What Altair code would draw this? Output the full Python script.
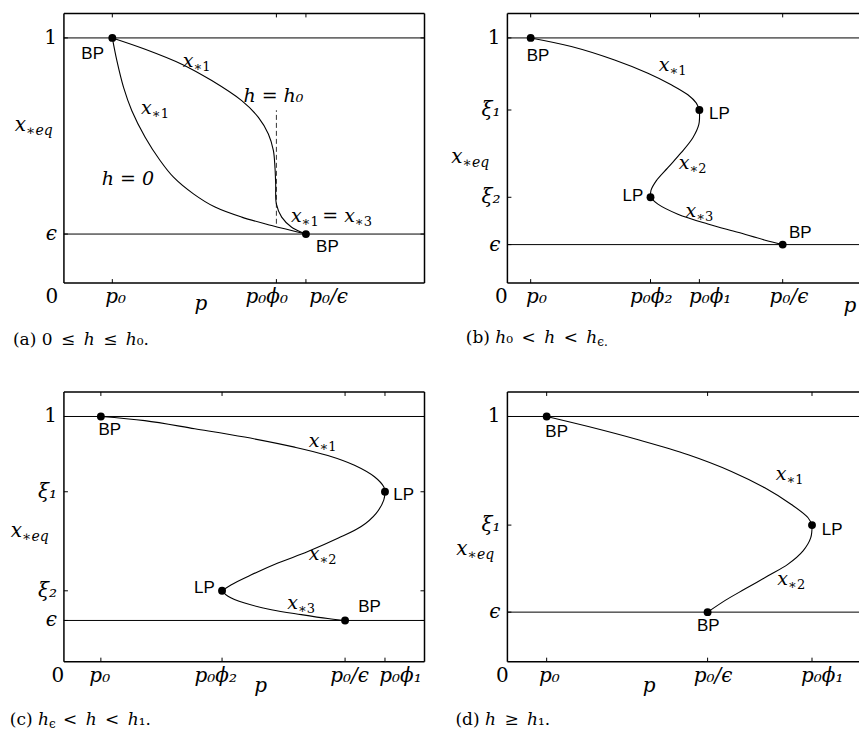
import altair as alt
import pandas as pd

MATH = "DejaVu Serif"
SANS = "Liberation Sans"
Y_TOP = 1.1          # top of the x_{*eq} axis
PANEL_H = 270
EN = "\u2002"        # wide space around relation signs in captions

# ---------------- (a)  0 <= h <= h0 ----------------
a_h0_p = [1.0, 1.094, 1.232, 1.403, 1.678, 1.987, 2.264, 2.676, 3.122, 3.673, 4.292, 5.0]
a_h0_x = [1.0, 0.907, 0.798, 0.703, 0.595, 0.500, 0.432, 0.364, 0.310, 0.269, 0.235, 0.2]
a_hh0_p = [1.0, 1.678, 2.435, 3.054, 3.673, 4.018, 4.224, 4.327, 4.360, 4.375, 4.389, 4.499, 4.705, 5.0]
a_hh0_x = [1.0, 0.954, 0.893, 0.826, 0.744, 0.676, 0.608, 0.541, 0.473, 0.404, 0.323, 0.269, 0.228, 0.2]
a_dots_p = [1.0, 5.0]
a_dots_x = [1.0, 0.2]
a_xticks = [1.0, 4.39, 5.0]
a_xtick_text = ["p₀", "p₀ϕ₀", "p₀/ϵ"]
a_xtick_at = [1.07, 4.19, 5.47]
a_yticks = [0.2, 1.0]
a_ytick_text = ["ϵ", "1"]
a_phi0_dash = [4.39, 0.242, 0.705]   # p, lower x, upper x

# ---------------- (b)  h0 < h < h_eps ----------------
b_x1_p = [1.0, 2.747, 4.605, 6.039, 7.039, 7.755, 8.112, 8.25]
b_x1_x = [1.0, 0.965, 0.910, 0.856, 0.809, 0.768, 0.735, 0.706]
b_x2_p = [8.25, 8.227, 7.970, 7.468, 6.897, 6.395, 6.17, 6.15]
b_x2_x = [0.706, 0.647, 0.593, 0.532, 0.471, 0.417, 0.378, 0.35]
b_x3_p = [6.15, 6.468, 7.326, 8.614, 9.901, 11.04, 11.83]
b_x3_x = [0.35, 0.322, 0.281, 0.241, 0.207, 0.176, 0.157]
b_dots_p = [1.0, 8.25, 6.15, 11.83]
b_dots_x = [1.0, 0.706, 0.35, 0.157]
b_xticks = [1.0, 6.15, 8.25, 11.83]
b_xtick_text = ["p₀", "p₀ϕ₂", "p₀ϕ₁", "p₀/ϵ"]
b_xtick_at = [1.25, 6.18, 8.71, 12.10]
b_yticks = [0.157, 0.35, 0.706, 1.0]
b_ytick_text = ["ϵ", "ξ₂", "ξ₁", "1"]

# ---------------- (c)  h_eps < h < h1 ----------------
c_x1_p = [1.0, 2.189, 3.541, 4.892, 6.243, 7.143, 7.865, 8.405, 8.657, 8.69]
c_x1_x = [1.0, 0.983, 0.950, 0.916, 0.875, 0.841, 0.801, 0.754, 0.713, 0.693]
c_x2_p = [8.69, 8.657, 8.451, 8.046, 7.414, 6.603, 5.792, 5.073, 4.532, 4.28]
c_x2_x = [0.693, 0.659, 0.605, 0.551, 0.503, 0.449, 0.402, 0.354, 0.314, 0.289]
c_x3_p = [4.28, 4.441, 4.892, 5.614, 6.424, 7.143, 7.61]
c_x3_x = [0.289, 0.267, 0.239, 0.212, 0.192, 0.176, 0.168]
c_dots_p = [1.0, 8.69, 4.28, 7.61]
c_dots_x = [1.0, 0.693, 0.289, 0.168]
c_xticks = [1.0, 4.28, 7.61, 8.69]
c_xtick_text = ["p₀", "p₀ϕ₂", "p₀/ϵ", "p₀ϕ₁"]
c_xtick_at = [0.97, 4.11, 7.73, 9.11]
c_yticks = [0.168, 0.289, 0.693, 1.0]
c_ytick_text = ["ϵ", "ξ₂", "ξ₁", "1"]

# ---------------- (d)  h >= h1 ----------------
d_x1_p = [1.0, 2.061, 3.333, 4.606, 5.707, 6.557, 7.234, 7.659, 7.76]
d_x1_x = [1.0, 0.959, 0.905, 0.844, 0.776, 0.709, 0.641, 0.587, 0.557]
d_x2_p = [7.76, 7.728, 7.532, 7.150, 6.641, 6.048, 5.539, 5.1]
d_x2_x = [0.557, 0.506, 0.452, 0.398, 0.350, 0.296, 0.249, 0.202]
d_dots_p = [1.0, 7.76, 5.1]
d_dots_x = [1.0, 0.557, 0.202]
d_xticks = [1.0, 5.1, 7.76]
d_xtick_text = ["p₀", "p₀/ϵ", "p₀ϕ₁"]
d_xtick_at = [1.07, 5.24, 8.02]
d_yticks = [0.202, 0.557, 1.0]
d_ytick_text = ["ϵ", "ξ₁", "1"]

ONE = pd.DataFrame({"k": [0]})


def build_panel(cfg):
    W, xmax = cfg["width"], cfg["xmax"]
    xs = alt.Scale(domain=[0, xmax], nice=False, zero=False)
    ys = alt.Scale(domain=[0, Y_TOP], nice=False, zero=False)

    def pos(xf="p", yf="x"):
        return dict(x=alt.X(xf, type="quantitative", scale=xs, axis=None),
                    y=alt.Y(yf, type="quantitative", scale=ys, axis=None))

    def text(df, size, style="normal", font=MATH, align="center",
             baseline="alphabetic", dx=0, dy=0):
        return alt.Chart(df).mark_text(
            font=font, fontSize=size, fontStyle=style, align=align,
            baseline=baseline, dx=dx, dy=dy, color="black"
        ).encode(**pos(), text="t:N")

    def px_text(t, x, y, size, style="normal", align="left", dy=0):
        return alt.Chart(ONE).mark_text(
            font=MATH, fontSize=size, fontStyle=style, align=align,
            baseline="alphabetic", dy=dy, color="black"
        ).encode(x=alt.value(x), y=alt.value(y), text=alt.value(t))

    layers = []

    # axes box (open on the right when the panel runs to the page edge)
    segs = [(0, 0, 0, Y_TOP), (0, Y_TOP, xmax, Y_TOP), (0, 0, xmax, 0)]
    if cfg["closed"]:
        segs.append((xmax, 0, xmax, Y_TOP))
    frame = pd.DataFrame(segs, columns=["p", "x", "p2", "x2"])
    layers.append(alt.Chart(frame).mark_rule(color="black", strokeWidth=1.5)
                  .encode(**pos(), x2="p2:Q", y2="x2:Q"))

    # reference lines x = 1 and x = eps
    hl = pd.DataFrame({"p": 0.0, "p2": xmax, "x": [cfg["yticks"][0], 1.0]})
    layers.append(alt.Chart(hl).mark_rule(color="black", strokeWidth=1)
                  .encode(**pos(), x2="p2:Q"))

    # inward tick marks
    xt = pd.DataFrame({"p": cfg["xticks"], "x": 0.0, "x2": 0.0})
    layers.append(alt.Chart(xt).mark_rule(color="black", strokeWidth=1, y2Offset=-4)
                  .encode(**pos(), y2="x2:Q"))
    xt_top = pd.DataFrame({"p": cfg["xticks"], "x": Y_TOP, "x2": Y_TOP})
    layers.append(alt.Chart(xt_top).mark_rule(color="black", strokeWidth=1, y2Offset=4)
                  .encode(**pos(), y2="x2:Q"))
    yt = pd.DataFrame({"p": 0.0, "p2": 0.0, "x": cfg["yticks"]})
    layers.append(alt.Chart(yt).mark_rule(color="black", strokeWidth=1, x2Offset=4)
                  .encode(**pos(), x2="p2:Q"))
    if cfg["closed"]:
        yt_r = pd.DataFrame({"p": xmax, "p2": xmax, "x": cfg["yticks"]})
        layers.append(alt.Chart(yt_r).mark_rule(color="black", strokeWidth=1, x2Offset=-4)
                      .encode(**pos(), x2="p2:Q"))

    # dashed marker line
    if cfg.get("dash"):
        dp, lo, hi = cfg["dash"]
        dd = pd.DataFrame({"p": [dp], "x": [lo], "x2": [hi]})
        layers.append(alt.Chart(dd).mark_rule(color="#333", strokeWidth=1, strokeDash=[5, 3])
                      .encode(**pos(), y2="x2:Q"))

    # equilibrium branches
    rows = []
    for name, ps, xs_ in cfg["curves"]:
        for i, (p, x) in enumerate(zip(ps, xs_)):
            rows.append({"branch": name, "i": i, "p": p, "x": x})
    cdf = pd.DataFrame(rows)
    layers.append(alt.Chart(cdf).mark_line(color="black", strokeWidth=1.1,
                                           interpolate="catmull-rom")
                  .encode(**pos(), detail="branch:N", order="i:Q"))

    # bifurcation points
    dots = pd.DataFrame({"p": cfg["dots"][0], "x": cfg["dots"][1]})
    layers.append(alt.Chart(dots).mark_circle(color="black", opacity=1, size=62)
                  .encode(**pos()))

    # tick labels
    xl = pd.DataFrame({"p": cfg["xtick_at"], "x": 0.0, "t": cfg["xtick_text"]})
    layers.append(text(xl, 20, style="italic", dy=20))
    layers.append(text(pd.DataFrame({"p": [0.0], "x": [0.0], "t": ["0"]}), 20,
                       dx=cfg["zero_dx"], dy=20))
    yl = pd.DataFrame({"p": 0.0, "x": cfg["yticks"], "t": cfg["ytick_text"]})
    layers.append(text(yl[yl.t != "1"], 20, style="italic", align="right",
                       baseline="middle", dx=-7))
    layers.append(text(yl[yl.t == "1"], 20, align="right", baseline="middle", dx=-7))

    # branch names such as x_{*1}: italic body, small subscript
    ml = pd.DataFrame(cfg["math"], columns=["p", "x", "main", "sub"])
    layers.append(text(ml.assign(t=ml["main"]), 19, style="italic", align="right"))
    layers.append(text(ml.assign(t=ml["sub"]), 13, align="left", dy=4))
    if cfg.get("plain"):
        pl = pd.DataFrame(cfg["plain"], columns=["p", "x", "t"])
        layers.append(text(pl, 19, style="italic", align="left"))

    # BP / LP tags
    sl = pd.DataFrame(cfg["tags"], columns=["p", "x", "t"])
    layers.append(text(sl, 17, font=SANS, baseline="middle"))

    # axis titles
    yx, yy = cfg["ytitle"]
    layers.append(px_text("x", yx, yy, 20, style="italic", align="right"))
    layers.append(px_text("∗eq", yx, yy, 14, style="italic", align="left", dy=4))
    px_, py_ = cfg["xtitle"]
    layers.append(px_text("p", px_, py_, 20, style="italic", align="center"))

    # caption
    for t, x, y, size, align, dy in cfg["caption"]:
        layers.append(px_text(t, x, y, size, align=align, dy=dy))

    return alt.layer(*layers).properties(width=W, height=PANEL_H)


panel_a = build_panel(dict(
    width=361, xmax=7.45, closed=True, zero_dx=-12,
    curves=[("h=0", a_h0_p, a_h0_x), ("h=h0", a_hh0_p, a_hh0_x)],
    dots=(a_dots_p, a_dots_x), dash=a_phi0_dash,
    xticks=a_xticks, xtick_text=a_xtick_text, xtick_at=a_xtick_at,
    yticks=a_yticks, ytick_text=a_ytick_text,
    math=[(2.676, 0.880, "x", "∗1"), (1.816, 0.690, "x", "∗1"),
          (4.911, 0.248, "x", "∗1"), (6.011, 0.248, "= x", "∗3")],
    plain=[(3.708, 0.740, "h = h₀"), (0.784, 0.400, "h = 0")],
    tags=[(0.594, 0.936, "BP"), (5.444, 0.147, "BP")],
    ytitle=(-38, 118), xtitle=(137, 297),
    caption=[(f"(a) 0{EN}≤{EN}ℎ{EN}≤{EN}ℎ₀.", -51, 332, 17, "left", 0)],
))

panel_b = build_panel(dict(
    width=352, xmax=15.11, closed=False, zero_dx=-6,
    curves=[("x1", b_x1_p, b_x1_x), ("x2", b_x2_p, b_x2_x), ("x3", b_x3_p, b_x3_x)],
    dots=(b_dots_p, b_dots_x),
    xticks=b_xticks, xtick_text=b_xtick_text, xtick_at=b_xtick_at,
    yticks=b_yticks, ytick_text=b_ytick_text,
    math=[(6.966, 0.866, "x", "∗1"), (7.826, 0.464, "x", "∗2"),
          (8.112, 0.268, "x", "∗3")],
    tags=[(1.318, 0.927, "BP"), (9.112, 0.691, "LP"),
          (5.395, 0.356, "LP"), (12.588, 0.204, "BP")],
    ytitle=(-45, 150), xtitle=(343, 299),
    caption=[(f"(b) ℎ₀{EN}<{EN}ℎ{EN}<{EN}ℎ", 90, 330, 17, "right", 0),
             ("ϵ.", 90, 330, 12, "left", 3)],
))

panel_c = build_panel(dict(
    width=361, xmax=9.76, closed=True, zero_dx=-6,
    curves=[("x1", c_x1_p, c_x1_x), ("x2", c_x2_p, c_x2_x), ("x3", c_x3_p, c_x3_x)],
    dots=(c_dots_p, c_dots_x),
    xticks=c_xticks, xtick_text=c_xtick_text, xtick_at=c_xtick_at,
    yticks=c_yticks, ytick_text=c_ytick_text,
    math=[(6.919, 0.875, "x", "∗1"), (6.919, 0.415, "x", "∗2"),
          (6.333, 0.216, "x", "∗3")],
    tags=[(1.243, 0.946, "BP"), (9.195, 0.679, "LP"),
          (3.803, 0.300, "LP"), (8.270, 0.222, "BP")],
    ytitle=(-42, 145), xtitle=(197, 300),
    caption=[("(c) ℎ", -15, 333, 17, "right", 0),
             ("ϵ", -15, 333, 12, "left", 3),
             (f"<{EN}ℎ{EN}<{EN}ℎ₁.", -1, 333, 17, "left", 0)],
))

panel_d = build_panel(dict(
    width=352, xmax=8.957, closed=False, zero_dx=-5,
    curves=[("x1", d_x1_p, d_x1_x), ("x2", d_x2_p, d_x2_x)],
    dots=(d_dots_p, d_dots_x),
    xticks=d_xticks, xtick_text=d_xtick_text, xtick_at=d_xtick_at,
    yticks=d_yticks, ytick_text=d_ytick_text,
    math=[(7.108, 0.740, "x", "∗1"), (7.150, 0.312, "x", "∗2")],
    tags=[(1.255, 0.935, "BP"), (8.275, 0.537, "LP"), (5.115, 0.144, "BP")],
    ytitle=(-40, 163), xtitle=(142, 300),
    caption=[(f"(d) ℎ{EN}≥{EN}ℎ₁.", -52, 333, 17, "left", 0)],
))

chart = (
    alt.concat(panel_a, panel_b, panel_c, panel_d, columns=2,
               spacing={"row": 109, "column": 83}, bounds="flush")
    .properties(padding={"left": 9, "top": 12, "right": 0, "bottom": 0},
                background="white")
    .configure_view(stroke=None)
)

chart.save("out.html", embed_options={"renderer": "svg", "actions": False})
